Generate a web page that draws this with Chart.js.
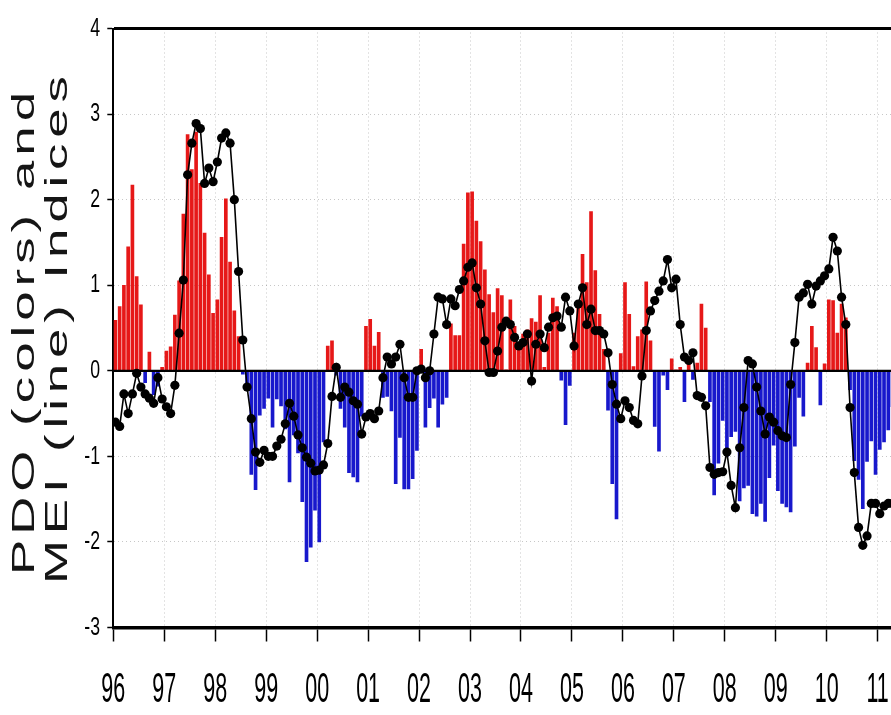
<!DOCTYPE html>
<html>
<head>
<meta charset="utf-8">
<script src="https://cdn.jsdelivr.net/npm/chart.js@4.4.1/dist/chart.umd.min.js"></script>
<style>
  html, body { margin: 0; padding: 0; background: #fff; overflow: hidden; }
  #wrap { position: relative; width: 960px; height: 715px; }
</style>
</head>
<body>
<div id="wrap"><canvas id="chart"></canvas></div>
<script>
// PDO index, monthly, Jan 1996 - Apr 2011 (bars)
const pdo = [
   0.59,  0.75,  1.00,  1.45,  2.17,  1.10,  0.77, -0.14,  0.22, -0.28, -0.18,  0.04,
   0.23,  0.28,  0.65,  1.05,  1.83,  2.76,  2.35,  2.79,  2.19,  1.61,  1.12,  0.67,
   0.83,  1.56,  2.01,  1.27,  0.70,  0.40, -0.04, -0.22, -1.21, -1.39, -0.52, -0.44,
  -0.32, -0.66, -0.33, -0.41, -0.68, -1.30, -0.75, -0.96, -1.53, -2.23, -2.06, -1.63,
  -2.00, -0.83,  0.29,  0.35, -0.05, -0.44, -0.66, -1.19, -1.24, -1.30, -0.53,  0.52,
   0.60,  0.29,  0.45, -0.31, -0.30, -0.47, -1.32, -0.78, -1.38, -1.38, -1.26, -0.93,
   0.25, -0.66, -0.43, -0.32, -0.66, -0.39, -0.31,  0.55,  0.41,  0.41,  1.48,  2.08,
   2.09,  1.75,  1.51,  1.18,  0.89,  0.68,  0.96,  0.88,  0.01,  0.83,  0.52,  0.33,
   0.43,  0.48,  0.61,  0.57,  0.88,  0.04,  0.44,  0.85,  0.75, -0.11, -0.63, -0.17,
   0.44,  0.81,  1.36,  1.03,  1.86,  1.17,  0.66,  0.25, -0.46, -1.32, -1.73,  0.20,
   1.03,  0.66,  0.05,  0.40,  0.48,  1.04,  0.35, -0.65, -0.94, -0.05, -0.22,  0.14,
   0.01,  0.04, -0.36,  0.16, -0.10,  0.09,  0.78,  0.50, -0.36, -1.45, -1.08, -0.58,
  -1.00, -0.77, -0.71, -1.52, -1.37, -1.34, -1.67, -1.70, -1.55, -1.76, -1.25, -0.87,
  -1.40, -1.55, -1.59, -1.65, -0.88, -0.31, -0.53,  0.09,  0.52,  0.27, -0.40,  0.08,
   0.83,  0.82,  0.44,  0.78,  0.62, -0.22, -1.05, -1.27, -1.61, -1.06, -0.82, -1.21,
  -0.92, -0.83, -0.69, -0.42
];

// MEI, same months (black line with dots)
const mei = [
  -0.60, -0.65, -0.27, -0.50, -0.27, -0.03, -0.19, -0.27, -0.32, -0.38, -0.08, -0.33,
  -0.42, -0.50, -0.17,  0.44,  1.06,  2.29,  2.66,  2.89,  2.83,  2.19,  2.37,  2.21,
   2.44,  2.72,  2.78,  2.66,  2.00,  1.16,  0.36, -0.19, -0.56, -0.95, -1.07, -0.93,
  -1.00, -1.00, -0.88, -0.80, -0.62, -0.38, -0.53, -0.75, -0.90, -1.01, -1.08, -1.17,
  -1.16, -1.10, -0.85, -0.30,  0.04, -0.31, -0.19, -0.25, -0.35, -0.39, -0.74, -0.54,
  -0.50, -0.56, -0.47, -0.08,  0.16,  0.08,  0.16,  0.31, -0.08, -0.31, -0.31,  0.00,
   0.02, -0.08,  0.00,  0.43,  0.86,  0.84,  0.54,  0.84,  0.76,  0.95,  1.05,  1.21,
   1.26,  0.97,  0.78,  0.35, -0.02, -0.02,  0.23,  0.51,  0.58,  0.54,  0.39,  0.29,
   0.33,  0.43, -0.12,  0.31,  0.43,  0.27,  0.51,  0.62,  0.64,  0.51,  0.86,  0.70,
   0.29,  0.78,  0.97,  0.54,  0.72,  0.47,  0.47,  0.43,  0.21, -0.16, -0.39, -0.56,
  -0.35, -0.43, -0.58, -0.62, -0.06,  0.47,  0.70,  0.82,  0.93,  1.05,  1.30,  0.97,
   1.07,  0.54,  0.16,  0.12,  0.21, -0.29, -0.31, -0.41, -1.13, -1.21, -1.19, -1.18,
  -0.95, -1.34, -1.60, -0.90, -0.43,  0.12,  0.08, -0.19, -0.47, -0.74, -0.54, -0.60,
  -0.70, -0.76, -0.78, -0.16,  0.33,  0.86,  0.91,  1.01,  0.78,  0.99,  1.05,  1.11,
   1.19,  1.56,  1.40,  0.86,  0.54, -0.43, -1.19, -1.83, -2.04, -1.93, -1.55, -1.55,
  -1.67, -1.58, -1.55, -1.55
];

const startYear = 1996;
const yearLabels = ['96','97','98','99','00','01','02','03','04','05','06','07','08','09','10','11','12'];
const yTickValues = [4, 3, 2, 1, 0, -1, -2, -3];
const titleLines = ['PDO (colors) and', 'MEI (line) Indices'];

// month i sits in the middle of its month
const monthX = i => startYear + (i + 0.5) / 12;
const pdoPoints = pdo.map((v, i) => ({ x: monthX(i), y: v }));
const meiPoints = mei.map((v, i) => ({ x: monthX(i), y: v }));

const FONT = '"Liberation Sans", Arial, sans-serif';

// text in the picture is squeezed sideways, so draw it with a scale
function drawSqueezed(ctx, text, x, y, size, sx, align) {
  ctx.save();
  ctx.translate(x, y);
  ctx.scale(sx, 1);
  ctx.font = size + 'px ' + FONT;
  ctx.textAlign = align;
  ctx.textBaseline = 'middle';
  ctx.fillText(text, 0, 0);
  ctx.restore();
}

// rotated axis title: letters stretched and spread out to a set length
function drawTitleLine(ctx, text, baseX, bottomY, length, size, stretch) {
  ctx.save();
  ctx.font = size + 'px ' + FONT;
  ctx.textAlign = 'left';
  ctx.textBaseline = 'alphabetic';
  const chars = [...text];
  const widths = chars.map(ch => ctx.measureText(ch).width * stretch);
  const total = widths.reduce((a, b) => a + b, 0);
  const gap = (length - total) / (chars.length - 1);
  ctx.translate(baseX, bottomY);
  ctx.rotate(-Math.PI / 2);
  let pos = 0;
  chars.forEach((ch, k) => {
    ctx.save();
    ctx.translate(pos, 0);
    ctx.scale(stretch, 1);
    ctx.fillText(ch, 0, 0);
    ctx.restore();
    pos += widths[k] + gap;
  });
  ctx.restore();
}

// heavy zero line over the bars, under the MEI line
const zeroLine = {
  id: 'zeroLine',
  afterDatasetDraw(chart, args) {
    if (args.index !== 0) return;
    const { ctx, chartArea, scales: { y } } = chart;
    const py = y.getPixelForValue(0);
    ctx.save();
    ctx.strokeStyle = '#000';
    ctx.lineWidth = 2.2;
    ctx.beginPath();
    ctx.moveTo(chartArea.left, py);
    ctx.lineTo(chartArea.right, py);
    ctx.stroke();
    ctx.restore();
  }
};

const axisText = {
  id: 'axisText',
  afterDraw(chart) {
    const { ctx, scales: { x, y } } = chart;
    ctx.save();
    ctx.fillStyle = '#000';
    yTickValues.forEach(v => {
      drawSqueezed(ctx, String(v), 100, y.getPixelForValue(v), 26, 0.68, 'right');
    });
    yearLabels.forEach((lab, k) => {
      drawSqueezed(ctx, lab, x.getPixelForValue(startYear + k), 690, 43, 0.5, 'center');
    });
    ctx.fillStyle = '#151515';
    drawTitleLine(ctx, titleLines[0], 34, 575, 483, 32, 1.65);
    drawTitleLine(ctx, titleLines[1], 67, 584, 508, 32, 1.65);
    ctx.restore();
  }
};

const dotted = 'rgba(0,0,0,0.22)';

new Chart(document.getElementById('chart'), {
  type: 'bar',
  data: {
    datasets: [
      {
        type: 'bar',
        label: 'PDO',
        data: pdoPoints,
        backgroundColor: c => (c.raw && c.raw.y >= 0) ? 'rgb(230,24,24)' : 'rgb(24,24,204)',
        barThickness: 3,
        order: 1
      },
      {
        type: 'line',
        label: 'MEI',
        data: meiPoints,
        borderColor: '#000',
        borderWidth: 1.6,
        pointRadius: 4.6,
        pointBackgroundColor: '#000',
        pointBorderWidth: 0,
        tension: 0,
        order: 0
      }
    ]
  },
  options: {
    responsive: true,
    maintainAspectRatio: false,
    animation: false,
    layout: { padding: { top: 28.5, left: 0, right: 5.9, bottom: 0 } },
    plugins: { legend: { display: false }, tooltip: { enabled: false } },
    scales: {
      x: {
        type: 'linear',
        min: 1996,
        max: 2012.5,
        offset: false,
        afterFit: s => { s.height = 715 - 627.5; },
        ticks: { display: false, stepSize: 1 },
        grid: {
          offset: false,
          color: dotted,
          lineWidth: 1,
          tickLength: 14,
          tickColor: '#000',
          tickWidth: 1.5,
          tickBorderDash: []
        },
        border: { display: true, color: '#000', width: 3.5, dash: [1, 3] }
      },
      y: {
        min: -3,
        max: 4,
        afterFit: s => { s.width = 113.3; },
        ticks: { display: false, stepSize: 1 },
        grid: {
          color: c => {
            if (!c.tick) return dotted;
            if (c.tick.value === 4) return '#000';
            if (c.tick.value === 0) return 'rgba(0,0,0,0)';
            return dotted;
          },
          lineWidth: c => (c.tick && c.tick.value === 4) ? 3 : 1,
          tickLength: 6,
          tickColor: '#000',
          tickWidth: 1.5,
          tickBorderDash: []
        },
        border: {
          display: true,
          color: '#000',
          width: 2,
          dash: c => (c.tick && c.tick.value === 4) ? [] : [1, 3]
        }
      }
    }
  },
  plugins: [zeroLine, axisText]
});
</script>
</body>
</html>
